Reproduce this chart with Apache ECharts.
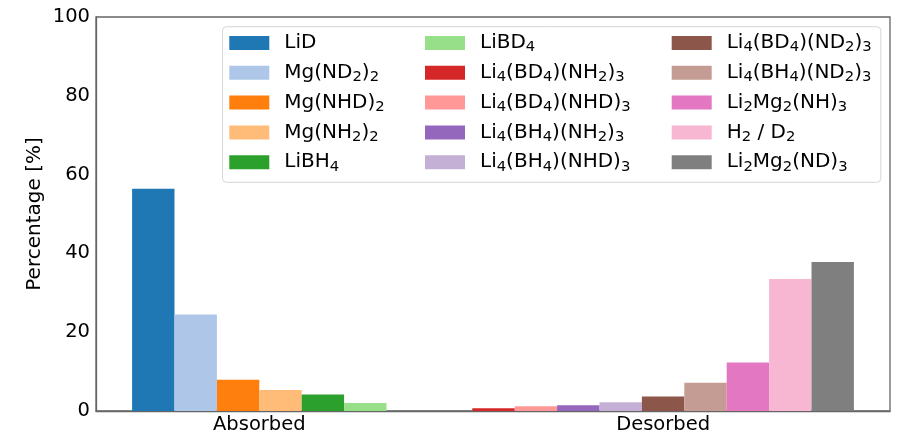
<!DOCTYPE html>
<html>
<head>
<meta charset="utf-8">
<script src="https://cdn.jsdelivr.net/npm/echarts@6/dist/echarts.min.js"></script>
<style>html,body{margin:0;padding:0;background:#fff}#c{width:897px;height:436px}</style>
</head>
<body>
<div id="c"></div>
<script>
// ---- data ----
var categories = ['Absorbed', 'Desorbed'];
var absorbedNames = ['LiD', 'Mg(ND2)2', 'Mg(NHD)2', 'Mg(NH2)2', 'LiBH4', 'LiBD4'];
var absorbedValues = [56.4, 24.5, 7.9, 5.3, 4.2, 2.0];
var desorbedNames = ['Li4(BD4)(NH2)3', 'Li4(BD4)(NHD)3', 'Li4(BH4)(NH2)3', 'Li4(BH4)(NHD)3',
  'Li4(BD4)(ND2)3', 'Li4(BH4)(ND2)3', 'Li2Mg2(NH)3', 'H2 / D2', 'Li2Mg2(ND)3'];
var desorbedValues = [0.7, 1.2, 1.45, 2.2, 3.65, 7.2, 12.3, 33.5, 37.8];
var colors = ['#1f77b4', '#aec7e8', '#ff7f0e', '#ffbb78', '#2ca02c', '#98df8a', '#d62728', '#ff9896',
  '#9467bd', '#c5b0d5', '#8c564b', '#c49c94', '#e377c2', '#f7b6d2', '#7f7f7f'];
var yTicks = [0, 20, 40, 60, 80, 100];

// ---- build ----
var barW = 0.105; // bar width in x data units
var series = [];
var colorIdx = 0;
function addGroup(names, values, center) {
  var n = names.length;
  names.forEach(function (nm, i) {
    var x = center + (i - (n - 1) / 2) * barW;
    series.push({
      type: 'bar', name: nm, barWidth: 42.4, barGap: '-100%',
      itemStyle: { color: colors[colorIdx++] },
      data: [[x, values[i]]]
    });
  });
}
addGroup(absorbedNames, absorbedValues, 0);
addGroup(desorbedNames, desorbedValues, 1);
var allNames = absorbedNames.concat(desorbedNames);
var leftEdge = -3 * barW, rightEdge = 1 + 4.5 * barW;
var pad = (rightEdge - leftEdge) * 0.05;

function fmt(name) {
  var parts = name.split(/(\d+)/);
  var s = '{g|}';
  parts.forEach(function (p, i) {
    if (!p) return;
    s += (i % 2 === 1) ? '{s|' + p + '}' : '{t|' + p + '}';
  });
  return s;
}
var FONT = 'DejaVu Sans';
var legendText = {
  fontFamily: FONT, fontSize: 20, color: '#000', lineHeight: 24,
  rich: {
    g: { width: 10, lineHeight: 24 },
    t: { fontFamily: FONT, fontSize: 20, color: '#000', lineHeight: 24 },
    s: { fontFamily: FONT, fontSize: 14.8, color: '#000', lineHeight: 13, verticalAlign: 'bottom' }
  }
};
function legend(names, left) {
  return {
    orient: 'vertical', left: left, top: 31, padding: 0, itemGap: 5.8,
    itemWidth: 40, itemHeight: 14, icon: 'rect', selectedMode: false,
    data: names, formatter: fmt, textStyle: legendText
  };
}

var chart = echarts.init(document.getElementById('c'));
chart.setOption({
  animation: false,
  backgroundColor: '#fff',
  grid: { left: 96, right: 7, top: 17, bottom: 25, show: true, borderColor: '#666', borderWidth: 1.3 },
  graphic: [{
    type: 'rect', shape: { x: 222.5, y: 26.7, width: 658.3, height: 155.6, r: 4 },
    style: { fill: 'rgba(255,255,255,0.8)', stroke: '#d6d6d6', lineWidth: 1 }, z: 0
  }],
  legend: [
    legend(allNames.slice(0, 5), 229.3),
    legend(allNames.slice(5, 10), 425),
    legend(allNames.slice(10, 15), 671.7)
  ],
  xAxis: {
    type: 'value', min: leftEdge - pad, max: rightEdge + pad,
    splitLine: { show: false },
    axisLine: { show: true, onZero: false, lineStyle: { color: '#666', width: 1.3 } },
    axisTick: { show: false },
    axisLabel: {
      customValues: [0, 1], margin: 4,
      formatter: function (v) { return categories[Math.round(v)]; },
      fontFamily: FONT, fontSize: 19.5, color: '#000'
    }
  },
  yAxis: {
    type: 'value', min: yTicks[0], max: yTicks[yTicks.length - 1], interval: 20,
    name: 'Percentage [%]', nameLocation: 'middle', nameGap: 51, nameMoveOverlap: false,
    nameTextStyle: { fontFamily: FONT, fontSize: 20, color: '#000' },
    splitLine: { show: false },
    axisLine: { show: true, onZero: false, lineStyle: { color: '#666', width: 1.3 } },
    axisTick: { show: false },
    axisLabel: { margin: 6, fontFamily: FONT, fontSize: 19.5, color: '#000' }
  },
  series: series
});
</script>
</body>
</html>
